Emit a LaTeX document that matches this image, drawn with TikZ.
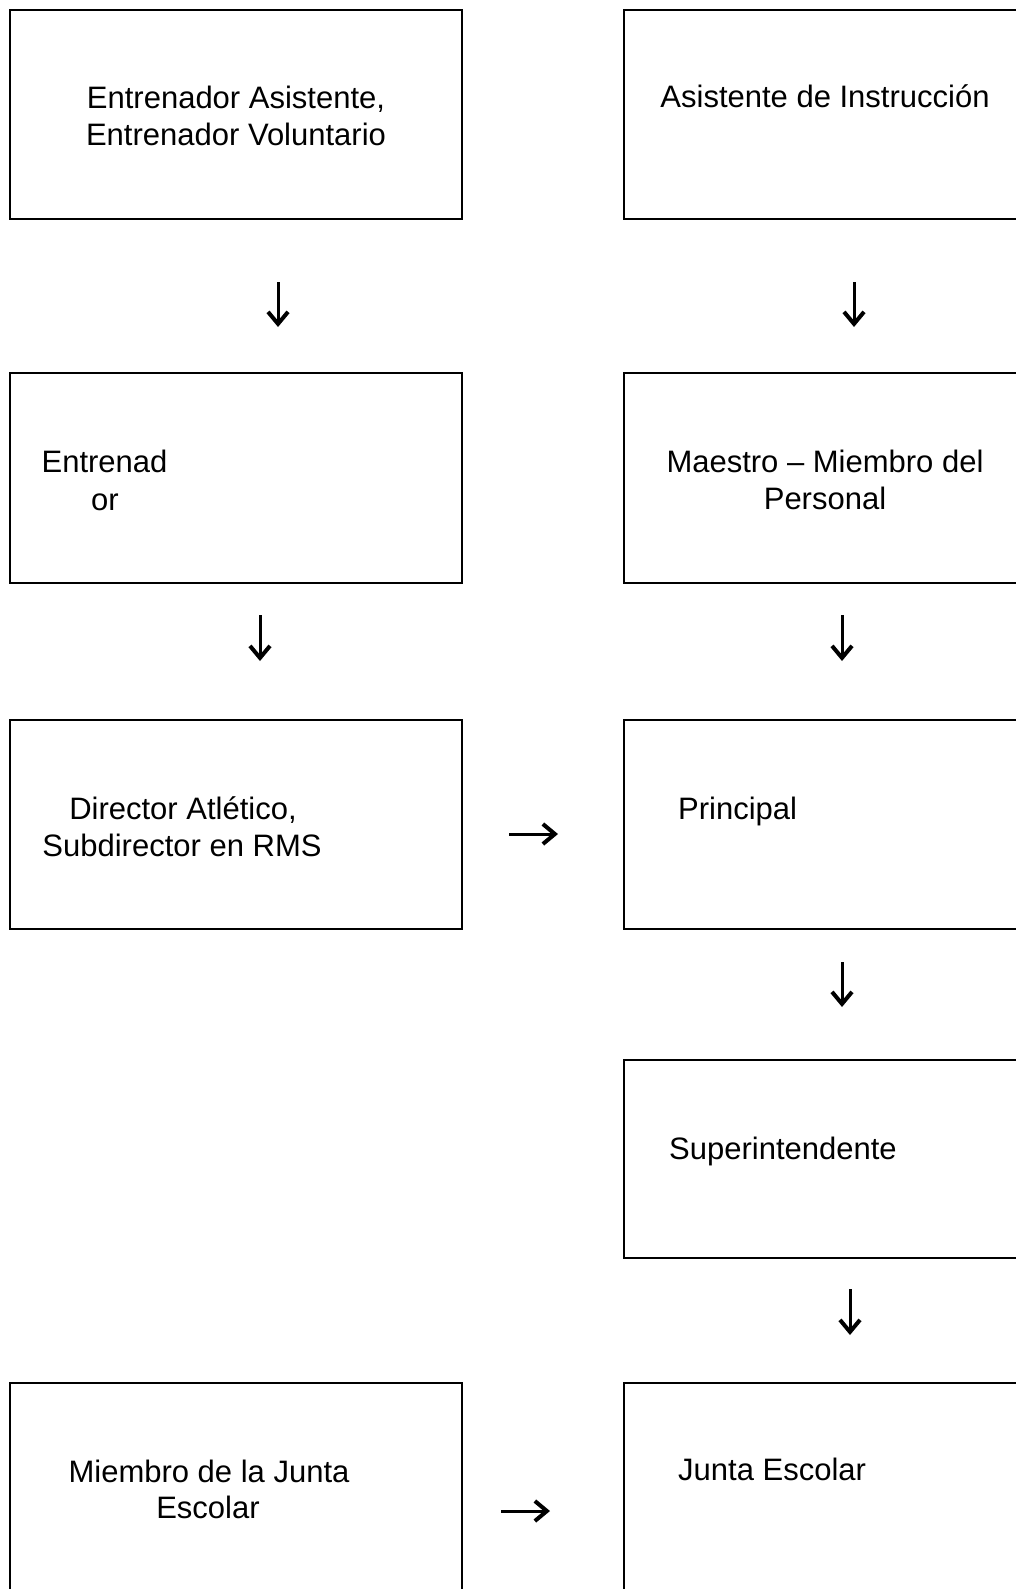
\documentclass[tikz,border=0pt]{standalone}
\usepackage{fontspec}
\setmainfont{Liberation Sans}
\usetikzlibrary{arrows.meta}
\begin{document}
\begin{tikzpicture}[
  x=1pt,y=1pt,
  box/.style={draw=black,line width=2pt,rectangle,inner sep=0pt,minimum width=#1},
  box/.default=452pt,
  txt/.style={inner sep=0pt,font=\fontsize{31pt}{37pt}\selectfont,text=black},
  flow/.style={line width=3pt,-{Straight Barb[length=12pt,width=20pt,line width=4pt]}}
]
\useasboundingbox (0,0) rectangle (1016,-1589);
\fill[white] (0,0) rectangle (1016,-1589);
\clip (0,0) rectangle (1016,-1589);

% boxes
\node[box,minimum height=209pt] (b1) at (236,-114.5) {};
\node[box=456pt,minimum height=209pt] (c1) at (852,-114.5) {};
\node[box,minimum height=210pt] (b2) at (236,-478) {};
\node[box=456pt,minimum height=210pt] (c2) at (852,-478) {};
\node[box,minimum height=209pt] (b3) at (236,-824.5) {};
\node[box=456pt,minimum height=209pt] (c3) at (852,-824.5) {};
\node[box=456pt,minimum height=198pt] (c4) at (852,-1158.5) {};
\node[box,minimum height=240pt] (b5) at (236,-1503) {};
\node[box=456pt,minimum height=240pt] (c5) at (852,-1503) {};

% texts
\node[txt,anchor=base] (t1a) at (236,-109) {Entrenador Asistente,};
\node[txt,anchor=base] (t1b) at (236,-146) {Entrenador Voluntario};
\node[txt,anchor=base] (u1) at (825,-108) {Asistente de Instrucción};
\node[txt,anchor=base] (t2a) at (104.5,-472) {Entrenad};
\node[txt,anchor=base] (t2b) at (105,-510) {or};
\node[txt,anchor=base] (u2a) at (825,-472) {Maestro – Miembro del};
\node[txt,anchor=base] (u2b) at (825,-509) {Personal};
\node[txt,anchor=base] (t3a) at (183,-819) {Director Atlético,};
\node[txt,anchor=base] (t3b) at (182,-856) {Subdirector en RMS};
\node[txt,anchor=base west] (u3) at (678,-819) {Principal};
\node[txt,anchor=base west] (u4) at (669,-1159) {Superintendente};
\node[txt,anchor=base] (t5a) at (209,-1482) {Miembro de la Junta};
\node[txt,anchor=base] (t5b) at (208,-1518) {Escolar};
\node[txt,anchor=base west] (u5) at (678,-1480) {Junta Escolar};

% arrow end points
\coordinate (a1s) at (278,-282);  \coordinate (a1e) at (278,-327);
\coordinate (a2s) at (854,-282);  \coordinate (a2e) at (854,-327);
\coordinate (a3s) at (260,-615);  \coordinate (a3e) at (260,-661);
\coordinate (a4s) at (842,-615);  \coordinate (a4e) at (842,-661);
\coordinate (a5s) at (842,-962);  \coordinate (a5e) at (842,-1007);
\coordinate (a6s) at (850,-1289); \coordinate (a6e) at (850,-1335);
\coordinate (h1s) at (509,-834);  \coordinate (h1e) at (558,-834);
\coordinate (h2s) at (501,-1511); \coordinate (h2e) at (550,-1511);

\draw[flow] (a1s) -- (a1e);
\draw[flow] (a2s) -- (a2e);
\draw[flow] (a3s) -- (a3e);
\draw[flow] (a4s) -- (a4e);
\draw[flow] (a5s) -- (a5e);
\draw[flow] (a6s) -- (a6e);
\draw[flow] (h1s) -- (h1e);
\draw[flow] (h2s) -- (h2e);
\end{tikzpicture}
\end{document}
